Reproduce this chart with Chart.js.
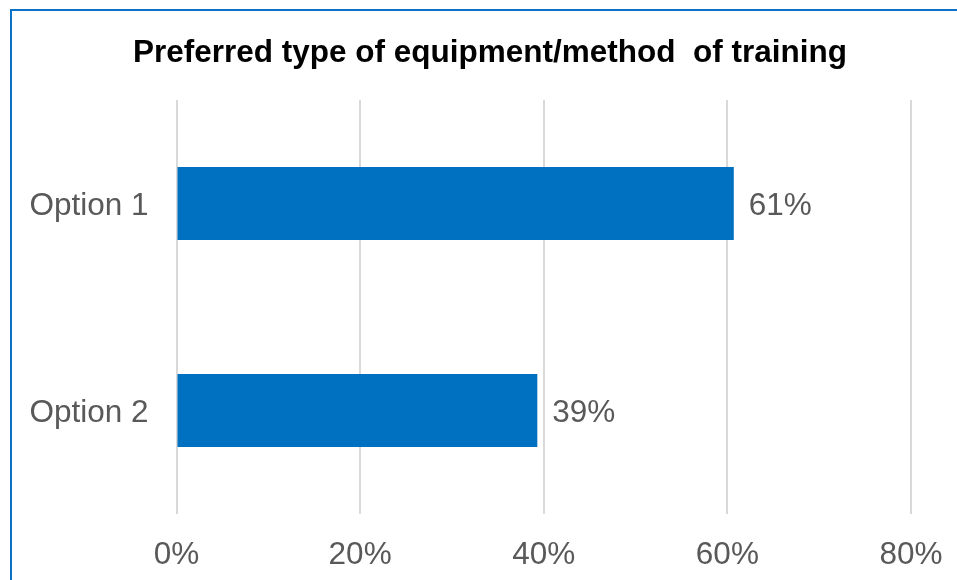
<!DOCTYPE html>
<html>
<head>
<meta charset="utf-8">
<script src="https://cdn.jsdelivr.net/npm/chart.js@4"></script>
<style>
  html, body { margin: 0; padding: 0; background: #ffffff; overflow: hidden; }
  #wrap { position: relative; width: 957px; height: 580px; }
  #frame { position: absolute; left: 10px; top: 9px; width: 2000px; height: 2000px;
           border-left: 2px solid #0b72c7; border-top: 2px solid #0b72c7; pointer-events: none; }
  canvas { position: absolute; left: 0; top: 0; }
</style>
</head>
<body>
<div id="wrap">
  <canvas id="c" width="957" height="580"></canvas>
  <div id="frame"></div>
</div>
<script>
const titleText = 'Preferred type of equipment/method  of training';
const categories = ['Option 1', 'Option 2'];
const values = [60.7, 39.3];
const xTicks = [0, 20, 40, 60, 80];

const FONT = "'Liberation Sans', Arial, sans-serif";

const dataLabels = {
  id: 'dataLabels',
  afterDatasetsDraw(chart) {
    const ctx = chart.ctx;
    const meta = chart.getDatasetMeta(0);
    ctx.save();
    ctx.font = '31.5px ' + FONT;
    ctx.fillStyle = '#595959';
    ctx.textAlign = 'left';
    ctx.textBaseline = 'middle';
    meta.data.forEach((bar, i) => {
      ctx.fillText(Math.round(values[i]) + '%', bar.x + 15, bar.y + 3);
    });
    ctx.restore();
  }
};

new Chart(document.getElementById('c'), {
  type: 'bar',
  data: {
    labels: categories,
    datasets: [{
      data: values,
      backgroundColor: '#0070c0',
      borderWidth: 0,
      barPercentage: 0.353,
      categoryPercentage: 1.0
    }]
  },
  options: {
    indexAxis: 'y',
    responsive: false,
    animation: false,
    layout: { padding: { left: 24, right: 1, top: 0, bottom: 0 } },
    plugins: {
      legend: { display: false },
      tooltip: { enabled: false },
      title: {
        display: true,
        text: titleText,
        color: '#000000',
        font: { family: FONT, size: 31.5, weight: 'bold' },
        padding: { top: 34, bottom: 28.2 }
      }
    },
    scales: {
      x: {
        min: 0,
        max: 80,
        afterBuildTicks(scale) { scale.ticks = xTicks.map(v => ({ value: v })); },
        afterFit(scale) { scale.height = 66; scale.paddingLeft = 0; scale.paddingRight = 46; },
        grid: { color: '#d9d9d9', lineWidth: 2, drawTicks: false },
        border: { display: false },
        ticks: {
          padding: 22,
          color: '#595959',
          font: { family: FONT, size: 31.5 },
          callback: v => v + '%'
        }
      },
      y: {
        afterFit(scale) { scale.width = 152.5; },
        grid: { display: false, drawTicks: false },
        border: { display: false },
        ticks: {
          padding: 28,
          labelOffset: 3,
          color: '#595959',
          font: { family: FONT, size: 31.5 }
        }
      }
    }
  },
  plugins: [dataLabels]
});
</script>
</body>
</html>
